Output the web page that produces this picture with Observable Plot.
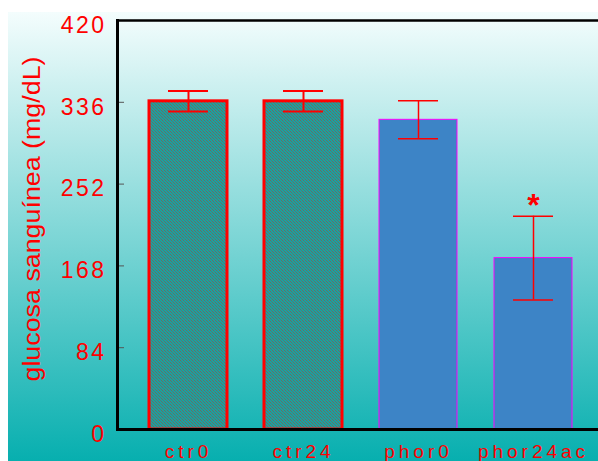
<!DOCTYPE html>
<html><head><meta charset="utf-8">
<script src="https://cdn.jsdelivr.net/npm/d3@7"></script>
<script src="https://cdn.jsdelivr.net/npm/@observablehq/plot@0.6"></script>
<style>
body{margin:0;background:#fff;}
#chart svg{display:block;}
#chart g[aria-label="y-axis tick label"] text{letter-spacing:2.5px;}
#chart g[aria-label="x-axis tick label"] text{letter-spacing:4px;}
</style></head><body><div id="chart"></div>
<script>
const groups = ["ctr0", "ctr24", "phor0", "phor24ac"];
const means = [337, 337, 318, 176];
const sems = [10.5, 10.5, 19.5, 43];
const kinds = ["ctr", "ctr", "phor", "phor"];
const yTicks = [0, 84, 168, 252, 336, 420];
const yTitle = ["glucosa sanguínea (mg/dL)"];
const markers = [{group: "phor24ac", label: "*"}];

const data = groups.map((g, i) => ({group: g, mean: means[i], kind: kinds[i], lo: means[i] - sems[i], hi: means[i] + sems[i]}));
const ctr = data.filter(d => d.kind === "ctr");
const phor = data.filter(d => d.kind === "phor");
const starData = markers.map(m => ({...m, y: data.find(d => d.group === m.group).hi}));

const plot = Plot.plot({
  width: 598, height: 461,
  marginLeft: 117, marginRight: 0, marginTop: 20, marginBottom: 32,
  style: {
    background: "linear-gradient(#f4fdfd, #07afaf) 8px 12px / 590px 449px no-repeat, #fff",
    fontFamily: "'Liberation Sans', Arial, sans-serif",
    overflow: "visible"
  },
  x: {domain: groups, range: [148, 573], paddingInner: 0.3256, paddingOuter: 0},
  y: {domain: [0, 420]},
  marks: [
    Plot.ruleY(yTicks, {stroke: "#555", strokeWidth: 1, insetRight: 474}),
    Plot.barY(ctr, {x: "group", y: "mean", fill: "url(#hatch)", stroke: "red", strokeWidth: 3}),
    Plot.barY(phor, {x: "group", y: "mean", fill: "#3d84c6", stroke: "#ff00ff", strokeWidth: 1}),
    Plot.ruleX(data, {x: "group", y1: "lo", y2: "hi", stroke: "red", strokeWidth: d => d.kind === "ctr" ? 2 : 1.5}),
    Plot.tickY(data, {x: "group", y: "lo", stroke: "red", strokeWidth: d => d.kind === "ctr" ? 2 : 1.5, insetLeft: 19, insetRight: 19}),
    Plot.tickY(data, {x: "group", y: "hi", stroke: "red", strokeWidth: d => d.kind === "ctr" ? 2 : 1.5, insetLeft: 19, insetRight: 19}),
    Plot.text(starData, {x: "group", y: "y", text: "label", fontSize: 32, fontWeight: "bold", fill: "red", dy: -10}),
    Plot.axisY({ticks: yTicks, tickSize: 0, tickPadding: 11, fontSize: 23, color: "red", dy: 5, label: null}),
    Plot.axisX({tickSize: 0, tickPadding: 15, fontSize: 19, color: "red", label: null}),
    Plot.ruleY([0], {stroke: "black", strokeWidth: 3}),
    Plot.ruleY([420], {stroke: "black", strokeWidth: 2.5}),
    Plot.frame({anchor: "left", stroke: "black", strokeWidth: 3}),
    Plot.text(yTitle, {frameAnchor: "left", textAnchor: "middle", rotate: -90, dx: -85, dy: -6, fontSize: 23, fill: "red"})
  ]
});

const defs = d3.select(plot).insert("defs", ":first-child");
const pat = defs.append("pattern").attr("id", "hatch").attr("patternUnits", "userSpaceOnUse")
  .attr("width", 3).attr("height", 3);
pat.append("rect").attr("width", 3).attr("height", 3).attr("fill", "#18a3a0");
pat.append("rect").attr("x", 0).attr("y", 0).attr("width", 1).attr("height", 1).attr("fill", "#8a5450").attr("fill-opacity", 0.75);
pat.append("rect").attr("x", 1).attr("y", 1).attr("width", 1).attr("height", 1).attr("fill", "#8a5450").attr("fill-opacity", 0.5);
pat.append("rect").attr("x", 2).attr("y", 2).attr("width", 1).attr("height", 1).attr("fill", "#8a5450").attr("fill-opacity", 0.75);

document.getElementById("chart").append(plot);

// stretch the rotated title to the reference length
const titleText = Array.from(plot.querySelectorAll("text")).find(t => t.textContent === yTitle[0]);
if (titleText) {
  titleText.setAttribute("textLength", 325);
  titleText.setAttribute("lengthAdjust", "spacingAndGlyphs");
}
</script></body></html>
